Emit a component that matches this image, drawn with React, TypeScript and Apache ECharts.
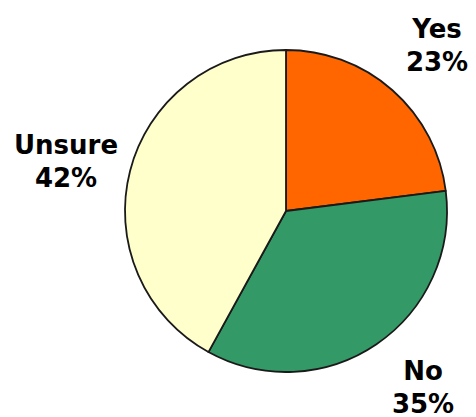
import React, { useEffect, useRef } from "react";
import * as echarts from "echarts";

const categories = ["Yes", "No", "Unsure"];
const values = [23, 35, 42];
const colors = ["#FF6600", "#339966", "#FFFFCC"];
const labelSpots = [
  [437, 45],
  [423, 387],
  [66, 161],
];

export default function App() {
  const ref = useRef<HTMLDivElement>(null);
  useEffect(() => {
    document.body.style.margin = "0";
    const chart = echarts.init(ref.current!, null, { renderer: "svg" });
    chart.setOption({
      animation: false,
      backgroundColor: "#FFFFFF",
      series: [
        {
          type: "pie",
          center: [286, 211],
          radius: 161,
          startAngle: 90,
          clockwise: true,
          data: categories.map((c, i) => ({
            name: c,
            value: values[i],
            itemStyle: { color: colors[i] },
          })),
          itemStyle: { borderColor: "#1a1a1a", borderWidth: 1.8 },
          label: {
            show: true,
            position: "outside",
            formatter: (p: any) => `${p.name}\n${p.value}%`,
            fontFamily: "DejaVu Sans",
            fontWeight: "bold",
            fontSize: 26,
            lineHeight: 33,
            color: "#000000",
            align: "center",
            overflow: "none",
            width: 200,
          },
          labelLine: { show: false },
          labelLayout: (params: any) => ({
            x: labelSpots[params.dataIndex][0],
            y: labelSpots[params.dataIndex][1],
            align: "center",
            verticalAlign: "middle",
            hideOverlap: false,
          }),
          emphasis: { disabled: true },
        },
      ],
    });
    return () => chart.dispose();
  }, []);
  return <div ref={ref} style={{ width: 476, height: 417 }} />;
}
